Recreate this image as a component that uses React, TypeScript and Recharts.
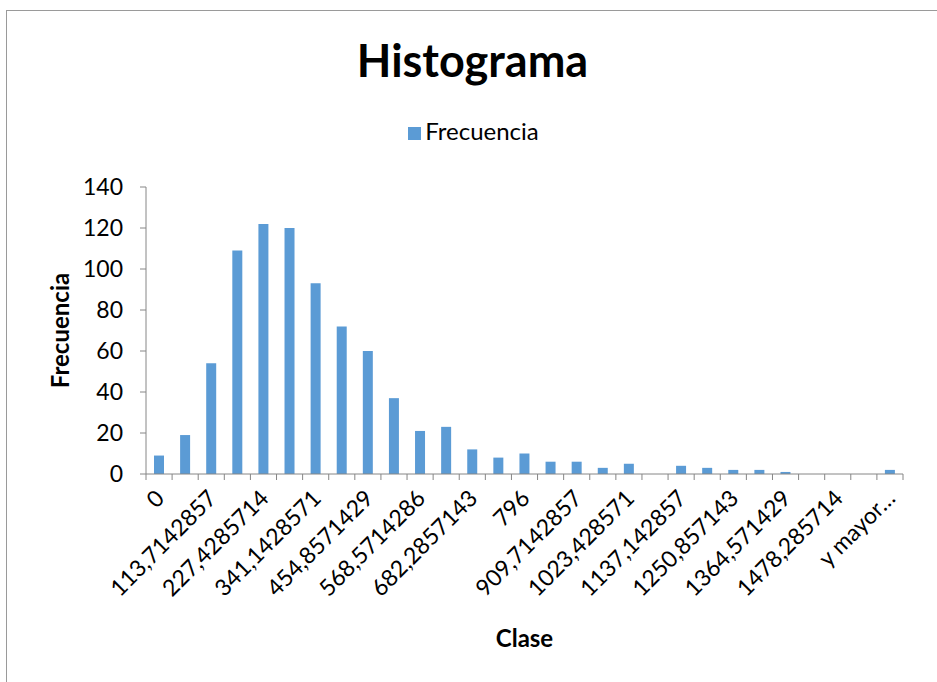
import { Bar, BarChart, Label, Legend, XAxis, YAxis } from "recharts";

const clases = [
  "0", "56,8571429", "113,7142857", "170,5714286", "227,4285714", "284,2857143",
  "341,1428571", "398", "454,8571429", "511,7142857", "568,5714286", "625,4285714",
  "682,2857143", "739,1428571", "796", "852,8571429", "909,7142857", "966,5714286",
  "1023,428571", "1080,285714", "1137,142857", "1194", "1250,857143", "1307,714286",
  "1364,571429", "1421,428571", "1478,285714", "1535,142857", "y mayor...",
];

const frecuencia = [
  9, 19, 54, 109, 122, 120, 93, 72, 60, 37, 21, 23, 12, 8, 10, 6, 6, 3, 5, 0,
  4, 3, 2, 2, 1, 0, 0, 0, 2,
];

const yTicks = [0, 20, 40, 60, 80, 100, 120, 140];

const data = clases.map((clase, i) => ({ clase, frecuencia: frecuencia[i] }));

const FONT = "Lato, 'Open Sans', sans-serif";
const PLOT_LEFT = 146;
const PLOT_RIGHT = 903;
const STEP = (PLOT_RIGHT - PLOT_LEFT) / clases.length;
const LEGEND_H = 29; // legend box height, recharts adds it to the top offset

// Excel style: tick marks on category boundaries, label every other category
function ClaseTick(props: any) {
  const { x, y, payload, index } = props;
  const left = x - STEP / 2;
  const last = index === clases.length - 1;
  const ax = x + 1;
  const ay = y + 12;
  return (
    <g>
      <line x1={left} x2={left} y1={y - 8} y2={y - 2} stroke="#868686" />
      {last && <line x1={left + STEP} x2={left + STEP} y1={y - 8} y2={y - 2} stroke="#868686" />}
      {index % 2 === 0 && (
        <text
          x={ax}
          y={ay}
          transform={`rotate(-45, ${ax}, ${ay})`}
          textAnchor="end"
          dy="0.35em"
          fontSize={23}
          fontFamily={FONT}
          fill="#000"
        >
          {payload.value === "y mayor..." ? "y mayor…" : payload.value}
        </text>
      )}
    </g>
  );
}

export default function App() {
  return (
    <div style={{ position: "absolute", left: 0, top: 0, width: 937, height: 682, overflow: "hidden", background: "#fff" }}>
      <div style={{ position: "absolute", left: 6, top: 10, width: 960, height: 700, border: "1px solid #9a9a9a" }} />
      <div
        style={{
          position: "absolute",
          left: 0,
          top: 33,
          width: 945,
          textAlign: "center",
          fontFamily: FONT,
          fontWeight: 700,
          fontSize: 45,
          color: "#000",
        }}
      >
        Histograma
      </div>
      <div style={{ position: "absolute", left: 0, top: 0 }}>
        <BarChart
          width={937}
          height={682}
          data={data}
          margin={{ top: 187 - LEGEND_H, right: 34, left: 0, bottom: 33 }}
        >
          <Legend
            verticalAlign="top"
            align="center"
            iconType="square"
            iconSize={13}
            wrapperStyle={{ top: 116, left: 10, width: 937, fontFamily: FONT, fontSize: 24, lineHeight: "29px" }}
            formatter={(value) => <span style={{ color: "#000" }}>{value}</span>}
          />
          <YAxis
            width={146}
            domain={[0, 140]}
            ticks={yTicks}
            interval={0}
            stroke="#868686"
            tickSize={6}
            tickMargin={17}
            tick={{ fill: "#000", fontSize: 23, fontFamily: FONT }}
          >
            <Label
              value="Frecuencia"
              angle={-90}
              position="center"
              dx={-13}
              style={{ fontFamily: FONT, fontSize: 24, fontWeight: 700, fill: "#000" }}
            />
          </YAxis>
          <XAxis
            dataKey="clase"
            height={175}
            interval={0}
            stroke="#868686"
            tickLine={false}
            tick={<ClaseTick />}
          >
            <Label
              value="Clase"
              position="insideBottom"
              offset={2}
              style={{ fontFamily: FONT, fontSize: 24, fontWeight: 700, fill: "#000" }}
            />
          </XAxis>
          <Bar dataKey="frecuencia" name="Frecuencia" fill="#5b9bd5" barSize={10} isAnimationActive={false} />
        </BarChart>
      </div>
    </div>
  );
}
